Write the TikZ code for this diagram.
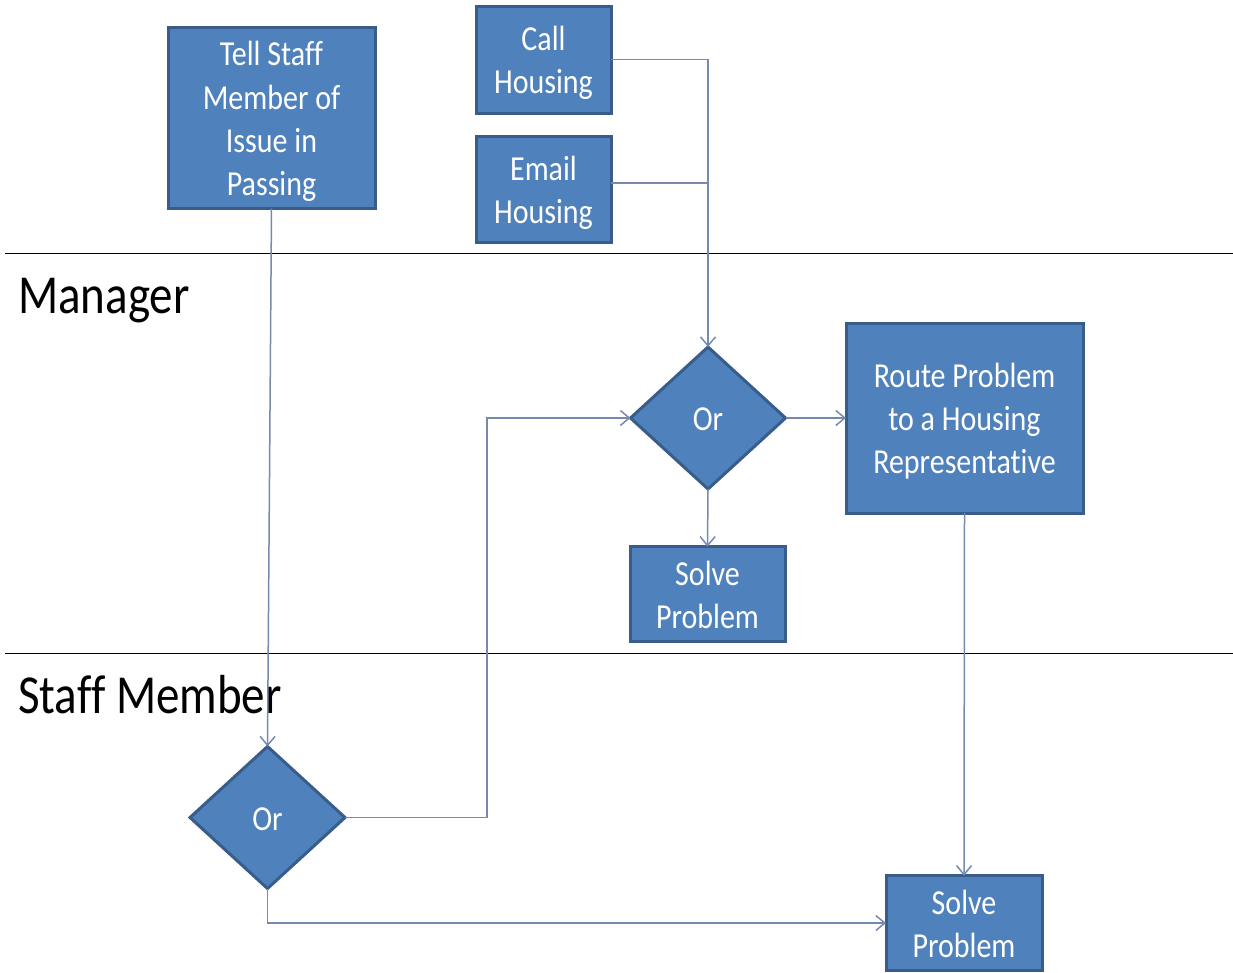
\documentclass[tikz,border=0pt]{standalone}
\usepackage{fontspec}
\setmainfont{Carlito}[Ligatures={NoCommon,NoContextual}]
\usetikzlibrary{shapes.geometric,arrows.meta,calc}
\definecolor{boxfill}{RGB}{79,129,189}
\definecolor{boxline}{RGB}{56,93,138}
\definecolor{conn}{RGB}{118,138,175}
\newcommand{\stx}[1]{\raisebox{0pt}[\dimexpr\height+8pt\relax][\depth]{\scalebox{1}[1.17]{\fontsize{30}{37}\selectfont\begin{tabular}{@{}c@{}}#1\end{tabular}}}}
\newcommand{\lanetx}[1]{\scalebox{1}[1.17]{\fontsize{47}{56}\selectfont #1}}
\tikzset{
  procbox/.style={draw=boxline, fill=boxfill, line width=3pt, text=white, inner sep=0pt, outer sep=0pt},
  decbox/.style={diamond, draw=boxline, fill=boxfill, line width=3pt, text=white, inner sep=0pt, outer sep=0pt, minimum width=155pt, minimum height=142pt},
  conline/.style={draw=conn, line width=1.5pt},
  conarrow/.style={conline, -{Straight Barb[length=9pt,width=15pt,line width=1.5pt]}},
  laneline/.style={draw=black, line width=1pt},
  lanelabel/.style={anchor=base west, inner sep=0pt, text=black}
}
\begin{document}
\begin{tikzpicture}[x=1pt,y=-1pt]
\useasboundingbox (0,0) rectangle (1233,972);
% lanes
\coordinate (l1a) at (5,253); \coordinate (l1b) at (1233,253);
\coordinate (l2a) at (5,653); \coordinate (l2b) at (1233,653);
\draw[laneline] (l1a) -- (l1b);
\draw[laneline] (l2a) -- (l2b);
\node[lanelabel] (manager) at (18,313) {\lanetx{Manager}};
\node[lanelabel] (staff) at (18,713) {\lanetx{Staf{}f Member}};
% nodes
\node[procbox, minimum width=207pt, minimum height=178pt] (tell) at (271.5,118) {\stx{Tell Staf{}f\\Member of\\Issue in\\Passing}};
\node[procbox, minimum width=135pt, minimum height=107pt] (call) at (543.5,59.5) {\stx{Call\\Housing}};
\node[procbox, minimum width=135pt, minimum height=106pt] (email) at (543.5,189) {\stx{Email\\Housing}};
\node[decbox] (or1) at (708,418) {\stx{Or}};
\node[procbox, minimum width=237pt, minimum height=190pt] (route) at (964.5,418) {\stx{Route Problem\\to a Housing\\Representat{}ive}};
\node[procbox, minimum width=155pt, minimum height=94pt] (solve1) at (707.5,594) {\stx{Solve\\Problem}};
\node[decbox] (or2) at (267.5,817.5) {\stx{Or}};
\node[procbox, minimum width=156pt, minimum height=94pt] (solve2) at (964,923) {\stx{Solve\\Problem}};
% connectors
\coordinate (j1) at (708,59.5);
\coordinate (emailout) at (611,183);
\coordinate (j2) at (708,183);
\coordinate (b1) at (487,817.5);
\coordinate (b2) at (487,418);
\coordinate (c1) at (267.5,923);
\draw[conarrow] (tell.south) -- (or2.north);
\draw[conarrow] (call.east) -- (j1) -- (or1.north);
\draw[conline] (emailout) -- (j2);
\draw[conarrow] (or1.east) -- (route.west);
\draw[conarrow] (or1.south) -- (solve1.north);
\draw[conarrow] (route.south) -- (solve2.north);
\draw[conarrow] (or2.east) -- (b1) -- (b2) -- (or1.west);
\draw[conarrow] (or2.south) -- (c1) -- (solve2.west);
\end{tikzpicture}
\end{document}
